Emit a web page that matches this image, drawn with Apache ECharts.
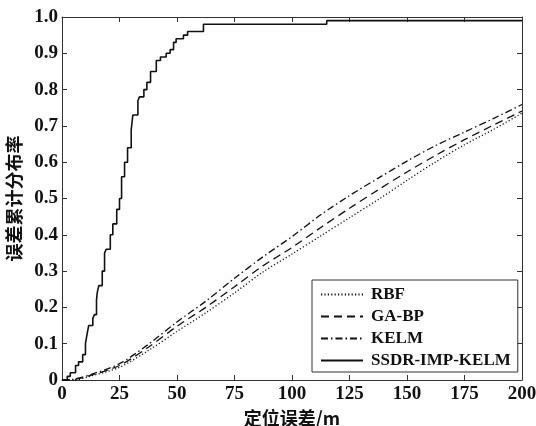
<!DOCTYPE html>
<html><head><meta charset="utf-8">
<script src="https://cdn.jsdelivr.net/npm/echarts@6/dist/echarts.min.js"></script>
<style>html,body{margin:0;padding:0;background:#fff}#c{width:536px;height:426px}</style>
</head><body><div id="c"></div>
<script>
// Data
const xGrid = [0, 5, 12.5, 25, 37.5, 50, 62.5, 75, 87.5, 100, 112.5, 125, 137.5, 150, 162.5, 175, 187.5, 200];
const rbf   = [0, 0, 0.011, 0.035, 0.081, 0.134, 0.185, 0.240, 0.298, 0.347, 0.397, 0.447, 0.497, 0.550, 0.601, 0.648, 0.690, 0.735];
const gabp  = [0, 0.001, 0.013, 0.040, 0.090, 0.148, 0.200, 0.257, 0.315, 0.365, 0.420, 0.473, 0.524, 0.573, 0.619, 0.662, 0.702, 0.741];
const kelm  = [0, 0.002, 0.015, 0.045, 0.098, 0.160, 0.217, 0.280, 0.340, 0.395, 0.455, 0.508, 0.556, 0.603, 0.646, 0.683, 0.720, 0.759];
// SSDR-IMP-KELM empirical CDF: jump positions (m) and new values
const ssdrX = [0, 2.3, 3.6, 5.9, 7.2, 9.0, 10.2, 11.0, 11.6, 13.4, 14.1, 15.0, 15.3, 16.0, 17.5, 18.5, 19.2, 21.0, 22.1, 23.8, 25.0, 25.9, 27.2, 28.5, 30.1, 30.8, 33.0, 33.7, 35.6, 36.9, 38.5, 41.0, 42.8, 45.3, 47.0, 48.5, 49.6, 52.8, 54.6, 61.5, 115.1, 200];
const ssdrY = [0, 0.01, 0.02, 0.04, 0.05, 0.07, 0.10, 0.13, 0.15, 0.17, 0.18, 0.22, 0.24, 0.26, 0.30, 0.35, 0.36, 0.40, 0.43, 0.47, 0.50, 0.56, 0.60, 0.64, 0.69, 0.73, 0.77, 0.78, 0.80, 0.82, 0.85, 0.88, 0.89, 0.90, 0.91, 0.93, 0.94, 0.95, 0.96, 0.98, 0.99, 0.99];
const seriesNames = ['RBF', 'GA-BP', 'KELM', 'SSDR-IMP-KELM'];
const xTicks = [0, 25, 50, 75, 100, 125, 150, 175, 200];
const yTicks = ['0', '0.1', '0.2', '0.3', '0.4', '0.5', '0.6', '0.7', '0.8', '0.9', '1.0'];

const pair = (xs, ys) => xs.map((x, i) => [x, ys[i]]);
const fontNum = 'Liberation Serif';
const axisCol = '#333';
const labelStyle = {color: '#111', fontFamily: fontNum, fontSize: 19, fontWeight: 'bold'};

const chart = echarts.init(document.getElementById('c'), null, {renderer: 'canvas'});
const baseLine = (name, data, type, extra) => Object.assign({
  name, type: 'line', data, symbol: 'none', showSymbol: false, animation: false,
  lineStyle: {color: '#111', width: 1.3, type}, itemStyle: {color: '#111'}
}, extra || {});
const axisCommon = {
  axisLine: {show: true, onZero: false, lineStyle: {color: axisCol, width: 1}},
  axisTick: {show: true, inside: true, length: 5, lineStyle: {color: axisCol}},
  splitLine: {show: false}
};

chart.setOption({
  backgroundColor: '#fff',
  animation: false,
  grid: {left: 62, right: 14, top: 17, bottom: 46, show: false, containLabel: false, outerBoundsMode: 'none'},
  legend: {
    data: seriesNames, orient: 'vertical', left: 312, top: 280,
    itemWidth: 42, itemHeight: 12, itemGap: 5,
    padding: [6, 7, 3, 8], borderColor: '#333', borderWidth: 1,
    backgroundColor: '#fff',
    itemStyle: {opacity: 0},
    textStyle: {fontFamily: fontNum, fontSize: 17, fontWeight: 'bold', color: '#111', padding: [0, 0, 0, 3], lineHeight: 17}
  },
  xAxis: [Object.assign({
    type: 'value', min: 0, max: 200, interval: 25, position: 'bottom',
    name: '定位误差/m', nameLocation: 'middle', nameGap: 21,
    nameTextStyle: {fontFamily: "'Noto Sans CJK SC', " + fontNum, fontSize: 18, fontWeight: 'bold', color: '#111'},
    axisLabel: Object.assign({margin: 5, formatter: v => String(xTicks[Math.round(v / 25)])}, labelStyle)
  }, axisCommon), Object.assign({
    type: 'value', min: 0, max: 200, interval: 25, position: 'top',
    axisLabel: {show: false}
  }, axisCommon)],
  yAxis: [Object.assign({
    type: 'value', min: 0, max: 1, interval: 0.1, position: 'left',
    name: '误差累计分布率', nameLocation: 'middle', nameGap: 37, nameRotate: 90,
    nameTextStyle: {fontFamily: "'Noto Sans CJK SC'", fontSize: 18, fontWeight: 'bold', color: '#111'},
    axisLabel: Object.assign({margin: 4, formatter: v => yTicks[Math.round(v * 10)]}, labelStyle)
  }, axisCommon), Object.assign({
    type: 'value', min: 0, max: 1, interval: 0.1, position: 'right',
    axisLabel: {show: false}
  }, axisCommon)],
  series: [
    baseLine(seriesNames[0], pair(xGrid, rbf), [1.2, 2.2], {smooth: 0.3}),
    baseLine(seriesNames[1], pair(xGrid, gabp), [8, 5], {smooth: 0.3}),
    baseLine(seriesNames[2], pair(xGrid, kelm), [7, 3, 1.5, 3], {smooth: 0.3}),
    baseLine(seriesNames[3], pair(ssdrX, ssdrY), 'solid', {step: 'end', lineStyle: {color: '#111', width: 1.6, type: 'solid'}})
  ]
});
</script></body></html>
